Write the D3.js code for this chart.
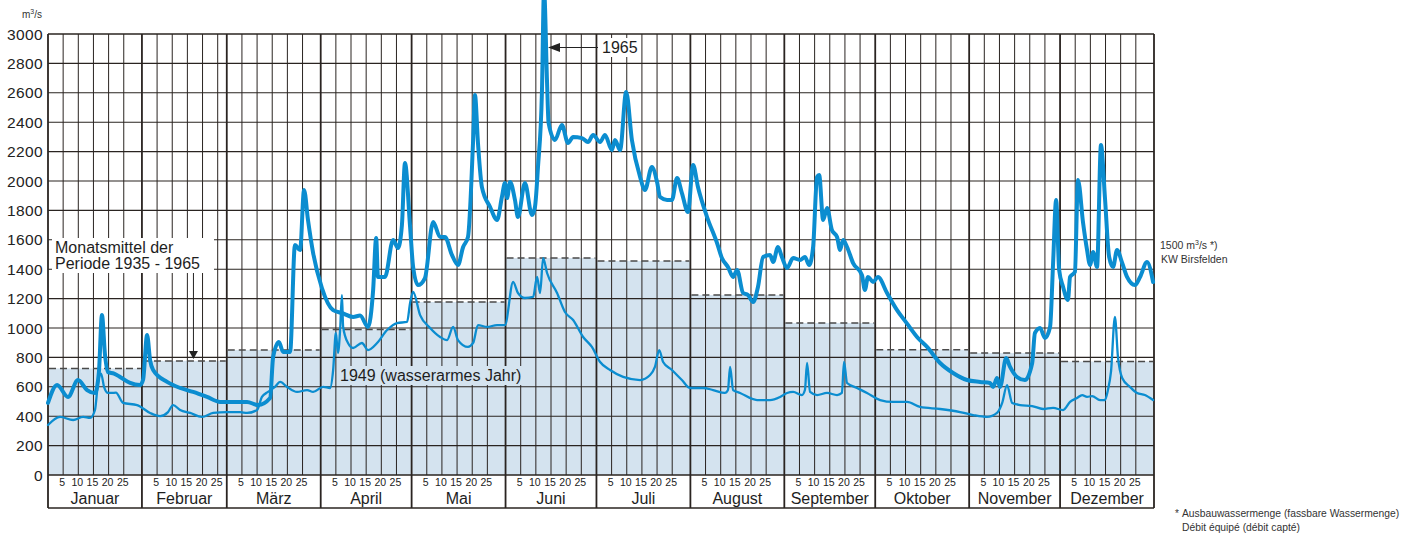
<!DOCTYPE html>
<html>
  <head>
    <meta charset="UTF-8">
    <title>Rhein - Abflussmengen</title>
    <script src="https://d3js.org/d3.v7.min.js"></script>
    <style>
    body { margin: 0; background: #fff; }
    svg { font-family: "Liberation Sans", Arial, sans-serif; display: block; }
    .grid { stroke: #2a2421; fill: none; }
    .flow { fill: none; stroke: #0b8dd0; stroke-linejoin: round; stroke-linecap: round; }
    </style>
  </head>
  <body>
  <script type="text/javascript">

  // month names and lengths
  var months = ['Januar', 'Februar', 'März', 'April', 'Mai', 'Juni', 'Juli', 'August', 'September', 'Oktober', 'November', 'Dezember'];
  var monthDays = [31, 28, 31, 30, 31, 30, 31, 31, 30, 31, 30, 31];
  var dayTicks = [5, 10, 15, 20, 25];
  var yTicks = d3.range(0, 3001, 200);

  // Monatsmittel der Periode 1935 - 1965 (m3/s)
  var monthMean = [725, 776, 850, 990, 1177, 1476, 1456, 1224, 1034, 852, 830, 772];

  // 1965 [day of year, m3/s]
  var q1965 = [
    [0, 490], [3.0, 612], [6.6, 530], [9.9, 646], [12.9, 578], [15.5, 558], [16.8, 700], [17.8, 1088],
    [18.8, 820], [19.8, 700], [21.8, 690], [23.8, 667], [27.1, 626], [30.4, 612], [31.4, 650], [32.7, 952],
    [33.7, 780], [34.7, 714], [39.3, 633], [43.6, 592], [47.9, 565], [52.5, 531], [56.8, 497], [61.1, 497],
    [65.7, 497], [69.3, 476], [73.3, 524], [74.3, 803], [76.2, 905], [77.6, 837], [79.9, 837], [81.5, 1565],
    [83.2, 1530], [84.5, 1939], [85.8, 1735], [87.5, 1510], [90.4, 1272], [94.1, 1122], [97.0, 1102],
    [100.7, 1075], [103.0, 1085], [105.6, 1007], [107.3, 1258], [108.3, 1612], [108.9, 1347], [111.2, 1347],
    [113.9, 1599], [115.5, 1544], [116.8, 1700], [117.8, 2122], [119.5, 1687], [120.5, 1415], [122.1, 1292],
    [124.4, 1340], [127.1, 1721], [129.4, 1619], [131.0, 1619], [133.3, 1497], [135.3, 1429], [137.0, 1551],
    [138.6, 1619], [140.3, 2279], [140.9, 2585], [141.9, 2258], [143.2, 1959], [145.9, 1823], [148.2, 1735],
    [149.8, 1891], [150.8, 1986], [151.5, 1884], [152.5, 1993], [154.1, 1871], [155.1, 1755], [157.4, 1986],
    [159.7, 1769], [160.7, 1823], [161.7, 2095], [163.0, 2599], [163.7, 3300], [164.7, 2667], [165.2, 2395],
    [167.3, 2279], [169.6, 2381], [171.6, 2258], [173.3, 2299], [176.2, 2292], [178.2, 2265], [179.9, 2313],
    [182.2, 2265], [183.8, 2313], [186.1, 2211], [187.1, 2279], [188.8, 2211], [190.8, 2605], [192.7, 2279],
    [195.4, 2027], [197.0, 1939], [199.3, 2095], [201.0, 1993], [202.0, 1891], [204.3, 1871], [205.9, 1871],
    [207.6, 2020], [209.2, 1918], [211.2, 1789], [212.9, 2109], [214.5, 1959], [217.5, 1755], [220.8, 1578],
    [222.4, 1476], [224.4, 1415], [226.1, 1347], [227.4, 1395], [229.4, 1238], [231.0, 1224], [232.7, 1177],
    [234.3, 1279], [236.0, 1483], [238.3, 1497], [239.3, 1449], [240.9, 1551], [242.2, 1483], [243.9, 1408],
    [245.9, 1476], [248.2, 1463], [249.8, 1483], [251.2, 1429], [252.5, 1551], [253.8, 2027], [254.5, 2041],
    [255.8, 1735], [257.1, 1816], [258.7, 1667], [260.4, 1619], [261.4, 1531], [262.4, 1599], [263.7, 1551],
    [265.7, 1442], [268.6, 1361], [269.6, 1259], [270.6, 1347], [272.3, 1313], [273.9, 1347], [276.9, 1238],
    [280.2, 1122], [283.5, 1030], [287.1, 932], [290.1, 871], [294.4, 762], [298.7, 694], [303.3, 646],
    [307.6, 633], [310.9, 626], [311.9, 599], [313.2, 660], [314.2, 599], [316.2, 796], [317.5, 735],
    [319.8, 667], [322.4, 646], [324.8, 762], [325.7, 966], [327.4, 1000], [329.0, 932], [330.7, 1007],
    [331.7, 1442], [332.7, 1871], [333.7, 1395], [335.0, 1279], [336.6, 1190], [337.3, 1347], [338.9, 1381],
    [339.9, 2007], [341.6, 1714], [342.9, 1531], [343.9, 1429], [344.9, 1517], [346.2, 1415], [347.5, 2245],
    [348.8, 1891], [350.2, 1483], [351.5, 1415], [352.8, 1531], [354.5, 1442], [356.1, 1347], [358.7, 1292],
    [360.4, 1347], [362.7, 1449], [364.7, 1313]
  ];

  // 1949 (wasserarmes Jahr)
  var q1949 = [
    [0, 340], [4.0, 395], [8.3, 374], [11.6, 395], [13.9, 388], [15.5, 442], [16.5, 626], [17.5, 690],
    [18.5, 600], [19.8, 558], [21.1, 558], [22.4, 560], [24.8, 490], [29.4, 476], [33.7, 422], [37.0, 401],
    [39.6, 428], [41.3, 476], [43.6, 442], [46.9, 422], [50.8, 395], [54.5, 422], [59.1, 428], [63.4, 428],
    [65.7, 422], [69.0, 442], [70.6, 531], [72.6, 565], [74.9, 599], [76.6, 633], [78.9, 599], [82.2, 565],
    [85.5, 578], [87.5, 565], [90.8, 599], [93.1, 592], [94.1, 714], [95.0, 966], [95.7, 830], [96.4, 986],
    [97.0, 1224], [97.4, 1007], [99.0, 898], [100.7, 864], [103.6, 898], [105.6, 850], [108.6, 898],
    [111.9, 986], [115.2, 1034], [118.5, 1041], [119.5, 1170], [120.5, 1245], [122.8, 1088], [126.1, 1000],
    [129.4, 939], [131.7, 918], [133.7, 1007], [135.3, 918], [138.6, 871], [140.3, 898], [141.9, 1020],
    [144.9, 1007], [148.2, 1020], [150.8, 1020], [153.5, 1313], [155.1, 1238], [157.4, 1204], [160.1, 1211],
    [161.4, 1347], [162.4, 1238], [163.4, 1476], [164.7, 1374], [168.0, 1238], [170.6, 1109], [173.3, 1054],
    [176.6, 939], [179.5, 871], [182.2, 769], [185.5, 714], [189.8, 667], [195.4, 646], [198.7, 680],
    [200.3, 735], [201.7, 850], [203.0, 769], [205.9, 714], [209.2, 646], [211.9, 592], [216.2, 592],
    [219.5, 578], [223.4, 558], [224.4, 578], [225.1, 735], [226.1, 578], [228.4, 558], [234.0, 510],
    [238.3, 510], [241.6, 531], [243.9, 558], [245.9, 565], [248.8, 544], [249.8, 578], [250.5, 762],
    [251.5, 565], [253.8, 544], [257.1, 558], [260.4, 544], [262.0, 558], [262.7, 769], [263.7, 626],
    [267.0, 592], [270.3, 558], [274.6, 510], [278.9, 497], [283.5, 497], [287.8, 463], [294.4, 449],
    [301.0, 428], [305.3, 408], [309.9, 395], [313.2, 422], [314.9, 490], [316.5, 612], [318.2, 490],
    [320.8, 476], [324.8, 469], [328.4, 449], [331.7, 456], [335.0, 442], [337.3, 497], [339.6, 524],
    [341.3, 544], [342.9, 531], [344.6, 537], [347.2, 510], [348.8, 510], [349.8, 578], [350.8, 701],
    [352.1, 1075], [353.1, 803], [354.5, 660], [357.1, 599], [359.4, 558], [362.0, 544], [364.7, 510]
  ];

  var W = 1405, H = 536;
  var pLeft = 48, pRight = 1154, pTop = 34, pBottom = 475, boxBottom = 508;

  var svg = d3.select('body').append('svg')
    .attr('width', W)
    .attr('height', H)
    .style('background', '#fff');

  var x = d3.scaleLinear().domain([0, 365]).range([pLeft, pRight]);
  var y = d3.scaleLinear().domain([0, 3000]).range([pBottom, pTop]);

  // month start days
  var starts = [0];
  monthDays.forEach(function(d, i) { starts.push(starts[i] + d); });

  var fillCol = '#d4e3ef';

  // monthly mean blocks
  svg.append('g').selectAll('rect')
    .data(monthMean)
    .enter().append('rect')
      .attr('x', function(d, i) { return x(starts[i]); })
      .attr('width', function(d, i) { return x(starts[i + 1]) - x(starts[i]); })
      .attr('y', function(d) { return y(d); })
      .attr('height', function(d) { return y(0) - y(d); })
      .attr('fill', fillCol);

  var grid = svg.append('g');

  // horizontal grid
  grid.selectAll('.h')
    .data(yTicks)
    .enter().append('line')
      .attr('class', 'grid')
      .attr('x1', pLeft).attr('x2', pRight)
      .attr('y1', function(d) { return y(d); })
      .attr('y2', function(d) { return y(d); })
      .attr('stroke-width', function(d) { return d == 0 || d == 3000 ? 1.6 : 1.1; });

  // day lines (5,10,...25 in every month)
  var dayLines = [];
  starts.slice(0, 12).forEach(function(s) {
    dayTicks.forEach(function(t) { dayLines.push(s + t); });
  });
  grid.selectAll('.v')
    .data(dayLines)
    .enter().append('line')
      .attr('class', 'grid')
      .attr('x1', function(d) { return x(d); })
      .attr('x2', function(d) { return x(d); })
      .attr('y1', pTop).attr('y2', pBottom)
      .attr('stroke-width', 1);

  // month lines
  grid.selectAll('.m')
    .data(starts)
    .enter().append('line')
      .attr('class', 'grid')
      .attr('x1', function(d) { return x(d); })
      .attr('x2', function(d) { return x(d); })
      .attr('y1', pTop).attr('y2', boxBottom)
      .attr('stroke-width', 1.8);

  grid.append('line').attr('class', 'grid')
    .attr('x1', pLeft).attr('x2', pRight)
    .attr('y1', boxBottom).attr('y2', boxBottom)
    .attr('stroke-width', 1.6);

  // dashed mean lines
  svg.append('g').selectAll('line')
    .data(monthMean)
    .enter().append('line')
      .attr('x1', function(d, i) { return x(starts[i]) + 1; })
      .attr('x2', function(d, i) { return x(starts[i + 1]) - 1; })
      .attr('y1', function(d) { return y(d); })
      .attr('y2', function(d) { return y(d); })
      .attr('stroke', '#4a4a4a')
      .attr('stroke-width', 1.4)
      .attr('stroke-dasharray', '7,4');

  // y tick labels
  svg.append('g').selectAll('text')
    .data(yTicks)
    .enter().append('text')
      .attr('x', 43)
      .attr('y', function(d) { return y(d) + 5.5; })
      .attr('text-anchor', 'end')
      .attr('font-size', '15.5px')
      .attr('letter-spacing', '0.4px')
      .attr('fill', '#222')
      .text(function(d) { return d; });

  svg.append('text')
    .attr('x', 22).attr('y', 18)
    .attr('font-size', '10px')
    .attr('fill', '#333')
    .html('m<tspan dy="-4" font-size="7px">3</tspan><tspan dy="4">/s</tspan>');

  // day labels and month names
  var labels = svg.append('g');
  labels.selectAll('.dl')
    .data(dayLines)
    .enter().append('text')
      .attr('x', function(d) { return x(d) - 1; })
      .attr('y', 486)
      .attr('text-anchor', 'middle')
      .attr('font-size', '10.5px')
      .attr('fill', '#222')
      .text(function(d, i) { return dayTicks[i % 5]; });

  labels.selectAll('.mn')
    .data(months)
    .enter().append('text')
      .attr('x', function(d, i) { return (x(starts[i]) + x(starts[i + 1])) / 2; })
      .attr('y', 504)
      .attr('text-anchor', 'middle')
      .attr('font-size', '16px')
      .attr('fill', '#1e1e1e')
      .text(function(d) { return d; });

  // label "1949 (wasserarmes Jahr)"
  svg.append('rect')
    .attr('x', 337).attr('y', 366).attr('width', 192).attr('height', 19)
    .attr('fill', fillCol);
  svg.append('text')
    .attr('x', 340).attr('y', 381)
    .attr('font-size', '16px')
    .attr('fill', '#1e1e1e')
    .text('1949 (wasserarmes Jahr)');

  // flow lines
  var line = d3.line()
    .x(function(d) { return x(d[0]); })
    .y(function(d) { return y(d[1]); })
    .curve(d3.curveMonotoneX);

  svg.append('path')
    .datum(q1949)
    .attr('class', 'flow')
    .attr('stroke-width', 2.3)
    .attr('d', line);

  svg.append('path')
    .datum(q1965)
    .attr('class', 'flow')
    .attr('stroke-width', 4)
    .attr('d', line);

  // Monatsmittel annotation
  svg.append('rect')
    .attr('x', 52).attr('y', 238).attr('width', 162).attr('height', 35)
    .attr('fill', '#fff');
  var mt = svg.append('text')
    .attr('font-size', '16px')
    .attr('fill', '#1e1e1e');
  mt.append('tspan').attr('x', 55).attr('y', 253).text('Monatsmittel der');
  mt.append('tspan').attr('x', 55).attr('y', 269).text('Periode 1935 - 1965');

  var ax = x(48);
  svg.append('line')
    .attr('x1', ax).attr('x2', ax)
    .attr('y1', 273).attr('y2', y(monthMean[1]) - 8)
    .attr('stroke', '#222').attr('stroke-width', 1);
  svg.append('path')
    .attr('d', 'M' + (ax - 4.5) + ',' + (y(monthMean[1]) - 10) + 'L' + (ax + 4.5) + ',' + (y(monthMean[1]) - 10) + 'L' + ax + ',' + (y(monthMean[1]) - 2) + 'Z')
    .attr('fill', '#222');

  // 1965 annotation
  svg.append('rect')
    .attr('x', 599).attr('y', 38).attr('width', 42).attr('height', 19)
    .attr('fill', '#fff');
  svg.append('text')
    .attr('x', 602).attr('y', 53)
    .attr('font-size', '16px')
    .attr('fill', '#1e1e1e')
    .text('1965');
  svg.append('line')
    .attr('x1', 557).attr('x2', 598)
    .attr('y1', 47.5).attr('y2', 47.5)
    .attr('stroke', '#222').attr('stroke-width', 1);
  svg.append('path')
    .attr('d', 'M548,47.5L560,43L560,52Z')
    .attr('fill', '#222');

  // right side notes
  var rn = svg.append('text')
    .attr('font-size', '10.5px')
    .attr('fill', '#333');
  rn.append('tspan').attr('x', 1160).attr('y', 249).text('1500 m');
  rn.append('tspan').attr('dy', -4).attr('font-size', '7px').text('3');
  rn.append('tspan').attr('dy', 4).text('/s *)');
  svg.append('text')
    .attr('x', 1161).attr('y', 263)
    .attr('font-size', '10.5px')
    .attr('fill', '#333')
    .text('KW Birsfelden');

  svg.append('text')
    .attr('x', 1175).attr('y', 517)
    .attr('font-size', '10px')
    .attr('fill', '#333')
    .text('*');
  svg.append('text')
    .attr('x', 1182).attr('y', 517)
    .attr('font-size', '10.3px')
    .attr('fill', '#333')
    .text('Ausbauwassermenge (fassbare Wassermenge)');
  svg.append('text')
    .attr('x', 1182).attr('y', 531)
    .attr('font-size', '10.3px')
    .attr('fill', '#333')
    .text('Débit équipé (débit capté)');

  </script>
  </body>
</html>
